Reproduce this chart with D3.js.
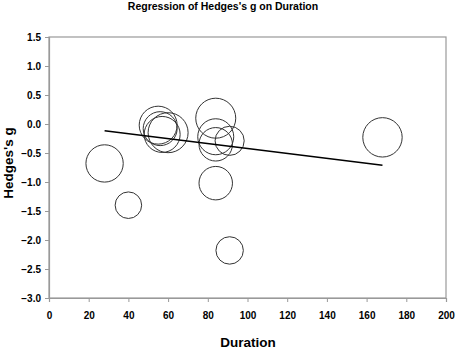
<!DOCTYPE html>
<html>
<head>
<meta charset="utf-8">
<script src="https://cdn.jsdelivr.net/npm/d3@7"></script>
<style>
  body { margin: 0; background: #fff; }
  text { font-family: "Liberation Sans", Arial, sans-serif; font-weight: bold; fill: #000; }
</style>
</head>
<body>
<div id="chart"></div>
<script>
// study data
var duration = [28, 40, 55, 56, 57, 60, 84, 84, 84, 91, 84, 91, 168];
var hedgesG = [-0.68, -1.40, -0.02, -0.08, -0.18, -0.15, 0.10, -0.22, -0.35, -0.29, -1.02, -2.18, -0.23];
var weight = [87, 44, 90, 72, 81, 100, 100, 81, 70, 53, 70, 47, 97];

// regression line ends
var regX = [28, 168];
var regY = [-0.115, -0.71];

var xTicks = [0, 20, 40, 60, 80, 100, 120, 140, 160, 180, 200];
var yTicks = [1.5, 1.0, 0.5, 0.0, -0.5, -1.0, -1.5, -2.0, -2.5, -3.0];

var W = 457, H = 351;
var margin = { top: 37, right: 11, bottom: 53, left: 49 },
    width = W - margin.left - margin.right,
    height = H - margin.top - margin.bottom;

var svg = d3.select("#chart").append("svg")
    .attr("width", W)
    .attr("height", H);

var g = svg.append("g")
    .attr("transform", "translate(" + margin.left + "," + margin.top + ")");

var x = d3.scaleLinear().domain([0, 200]).range([0, width]);
var y = d3.scaleLinear().domain([-3, 1.5]).range([height, 0]);
var r = d3.scaleSqrt().domain([0, 100]).range([0, 20]);

// frame
g.append("rect")
    .attr("width", width)
    .attr("height", height)
    .attr("fill", "none")
    .attr("stroke", "#999")
    .attr("stroke-width", 1.2);

var xAxis = g.append("g")
    .attr("transform", "translate(0," + height + ")")
    .call(d3.axisBottom(x).tickValues(xTicks).tickSize(4).tickPadding(10).tickFormat(d3.format("d")));

var yAxis = g.append("g")
    .call(d3.axisLeft(y).tickValues(yTicks).tickSize(4).tickPadding(4).tickFormat(d3.format(".1f")));

[xAxis, yAxis].forEach(a => {
    a.select(".domain").attr("stroke", "#999").attr("stroke-width", 1.2);
    a.selectAll(".tick line").attr("stroke", "#999");
    a.selectAll(".tick text")
        .attr("font-family", "Liberation Sans, Arial, sans-serif")
        .attr("font-weight", "bold")
        .attr("font-size", "10px")
        .attr("fill", "#000");
});

// bubbles
g.selectAll(".bubble")
    .data(duration.map((d, i) => ({ x: d, y: hedgesG[i], w: weight[i] })))
    .enter().append("circle")
    .attr("class", "bubble")
    .attr("cx", d => x(d.x))
    .attr("cy", d => y(d.y))
    .attr("r", d => r(d.w))
    .attr("fill", "none")
    .attr("stroke", "#333")
    .attr("stroke-width", 1);

// regression line
g.append("line")
    .attr("x1", x(regX[0])).attr("y1", y(regY[0]))
    .attr("x2", x(regX[1])).attr("y2", y(regY[1]))
    .attr("stroke", "#000")
    .attr("stroke-width", 1.6);

// titles
svg.append("text")
    .attr("x", 223).attr("y", 10)
    .attr("text-anchor", "middle")
    .attr("font-size", "10.5px")
    .text("Regression of Hedges's g on Duration");

svg.append("text")
    .attr("x", 248).attr("y", 347)
    .attr("text-anchor", "middle")
    .attr("font-size", "13.5px")
    .text("Duration");

svg.append("text")
    .attr("transform", "translate(13,163) rotate(-90)")
    .attr("text-anchor", "middle")
    .attr("font-size", "13.5px")
    .text("Hedges's g");
</script>
</body>
</html>
